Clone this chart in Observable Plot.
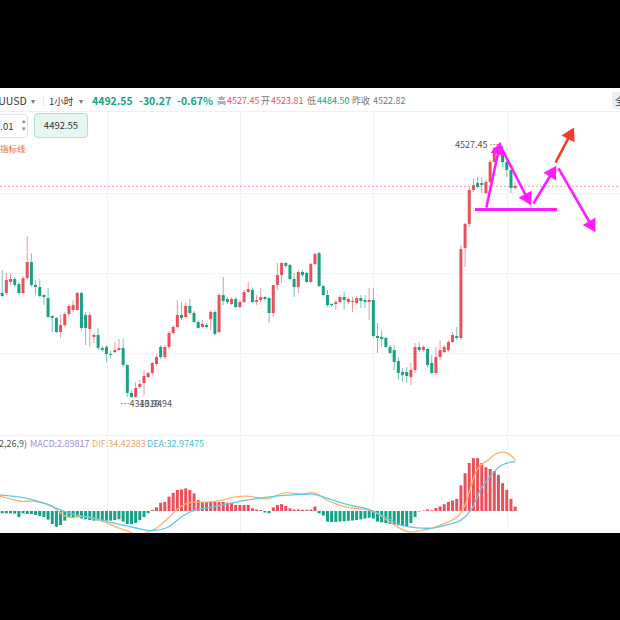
<!DOCTYPE html>
<html><head><meta charset="utf-8">
<script src="https://cdn.jsdelivr.net/npm/d3@7"></script>
<script src="https://cdn.jsdelivr.net/npm/@observablehq/plot@0.6"></script>
<style>
html,body{margin:0;padding:0;background:#000;width:620px;height:620px;overflow:hidden;font-family:"Noto Sans CJK SC","Noto Sans",sans-serif;}
#panel{position:absolute;left:0;top:88px;width:620px;height:445px;background:#fff;overflow:hidden;}
.t{position:absolute;white-space:nowrap;line-height:14px;}
#price{position:absolute;left:0;top:23px;}
#macd{position:absolute;left:0;top:347px;}
.sep{position:absolute;left:0;width:620px;height:1px;background:#eef0f2;}
</style></head>
<body>
<div id="panel">
  <div class="sep" style="top:23px"></div>
  <div id="price"></div>
  <div class="sep" style="top:347px"></div>
  <div id="macd"></div>
  <div id="hdr"></div>
</div>
<script>
// ---------------- data ----------------
const opens = [
4400.8,4400.8,4410.2,4412.8,4408.5,4400.8,4413.6,4427.3,4407.7,4405.9,
4399.1,4396.5,4381.1,4379.4,4367.4,4373.4,4382.8,4386.3,4386.3,4400.8,
4382.0,4370.0,4363.2,4364.9,4353.8,4354.6,4348.6,4350.3,4352.0,4353.8,
4339.2,4315.3,4311.8,4320.4,4323.8,4328.9,4332.4,4340.1,4354.6,4346.0,
4354.6,4366.6,4371.7,4382.0,4380.3,4389.7,4383.7,4376.0,4371.7,4373.4,
4378.6,4384.6,4367.4,4399.1,4395.7,4391.4,4395.7,4388.8,4393.1,4401.7,
4403.4,4393.1,4394.8,4397.4,4396.5,4383.7,4407.7,4416.2,4426.5,4424.8,
4412.8,4405.9,4418.8,4417.9,4410.2,4425.6,4435.0,4406.8,4399.1,4391.4,
4391.4,4393.1,4397.4,4393.1,4393.1,4392.3,4396.5,4394.8,4393.1,4394.8,
4364.0,4363.2,4362.3,4354.6,4352.0,4342.6,4333.2,4333.2,4328.9,4334.9,
4354.6,4352.0,4352.9,4340.9,4332.4,4346.0,4350.3,4352.0,4358.9,4364.0,
4362.3,4439.3,4459.9,4489.0,4494.9,4494.9,4486.4,4495.8,4512.9,4523.2,
4523.2,4512.9,4506.1,4490.7];
const closes = [
4398.2,4411.9,4412.8,4407.7,4400.8,4413.6,4427.3,4407.7,4405.9,4398.2,
4397.4,4380.3,4379.4,4367.4,4373.4,4382.8,4389.7,4390.5,4400.8,4370.9,
4370.9,4382.0,4364.9,4353.8,4352.0,4348.6,4347.8,4352.0,4353.8,4339.2,
4315.3,4311.8,4319.5,4323.0,4329.8,4332.4,4340.9,4346.0,4346.0,4354.6,
4366.6,4371.7,4382.0,4379.4,4389.7,4383.7,4376.0,4370.9,4374.3,4371.7,
4384.6,4365.7,4399.1,4394.0,4393.1,4395.7,4388.8,4393.1,4401.7,4404.2,
4393.1,4394.8,4397.4,4395.7,4383.7,4407.7,4416.2,4426.5,4423.9,4412.8,
4405.9,4418.8,4416.2,4410.2,4425.6,4434.2,4406.8,4399.1,4390.5,4390.5,
4393.1,4397.4,4394.8,4395.7,4394.0,4396.5,4394.0,4393.1,4394.8,4364.0,
4362.3,4361.5,4354.6,4349.5,4341.8,4332.4,4330.6,4329.8,4334.9,4354.6,
4352.0,4354.6,4339.2,4332.4,4346.0,4352.0,4354.6,4358.9,4364.9,4362.3,
4438.5,4459.9,4489.0,4493.2,4491.5,4493.2,4495.8,4512.9,4524.9,4525.7,
4512.9,4506.1,4490.7,4492.55];
const highs = [
4420.5,4417.9,4417.9,4414.5,4410.2,4415.4,4449.6,4435.0,4411.9,4412.8,
4399.6,4405.1,4382.0,4380.3,4382.0,4384.6,4391.4,4394.8,4401.7,4401.7,
4384.6,4384.6,4366.6,4370.9,4355.5,4356.3,4351.2,4358.9,4361.5,4362.3,
4339.6,4317.8,4324.7,4326.4,4334.9,4333.2,4341.8,4348.6,4356.3,4356.3,
4368.3,4373.4,4394.8,4393.1,4393.1,4395.7,4385.4,4377.7,4377.7,4375.1,
4386.3,4386.3,4400.8,4414.5,4397.4,4397.4,4397.4,4394.8,4403.4,4410.2,
4405.1,4399.1,4405.1,4398.2,4397.4,4407.7,4426.5,4427.3,4427.3,4425.6,
4417.9,4420.5,4420.5,4418.8,4426.5,4435.0,4435.9,4407.7,4403.4,4392.3,
4394.8,4399.1,4401.7,4397.4,4397.4,4398.2,4399.1,4399.1,4405.1,4405.1,
4375.1,4369.2,4363.2,4356.3,4356.3,4346.0,4336.6,4337.5,4340.9,4358.0,
4358.9,4356.3,4353.8,4347.8,4354.6,4360.6,4356.3,4360.6,4367.4,4371.7,
4441.9,4460.7,4491.5,4499.2,4500.1,4500.1,4497.5,4514.6,4525.7,4527.45,
4527.0,4516.3,4506.5,4495.8];
const lows = [
4397.4,4399.1,4407.7,4405.9,4399.1,4400.0,4411.9,4405.9,4399.1,4397.4,
4390.5,4379.4,4367.4,4366.6,4362.3,4371.7,4381.1,4384.6,4385.4,4369.2,
4356.3,4354.6,4358.0,4352.0,4350.3,4341.8,4345.2,4349.5,4351.2,4337.5,
4311.8,4310.94,4311.4,4318.7,4313.5,4328.1,4330.6,4338.4,4344.3,4344.3,
4352.9,4364.9,4370.9,4377.7,4379.4,4382.0,4375.1,4370.0,4370.9,4370.0,
4369.2,4364.9,4366.6,4390.5,4391.4,4390.5,4388.0,4388.0,4392.3,4400.8,
4392.3,4390.5,4393.1,4394.0,4375.1,4380.3,4403.4,4409.4,4422.2,4411.9,
4397.4,4400.8,4414.5,4409.4,4409.4,4424.8,4405.9,4398.2,4388.8,4388.8,
4386.3,4392.3,4386.3,4391.4,4384.6,4390.5,4388.0,4388.0,4377.7,4362.3,
4349.5,4354.6,4353.8,4348.6,4334.9,4326.4,4324.7,4323.8,4322.1,4332.4,
4350.3,4350.3,4337.5,4331.5,4330.6,4343.5,4349.5,4350.3,4358.0,4360.6,
4360.6,4423.1,4457.3,4487.2,4490.7,4486.4,4485.5,4494.9,4512.1,4520.6,
4508.6,4500.1,4486.4,4489.0];
const macdHist = [
-1.5,-1.5,-1.5,-1.8,-4,-1.5,-2,-2,-2.6,-3.3,
-4,-5.7,-8.6,-10.4,-9.3,-6.4,-4,-4,-3.7,-4.9,
-5.5,-6,-6.4,-6.4,-7,-6.4,-6.4,-6,-5.5,-7,
-8.6,-8.6,-8,-6,-4,-1.5,0.7,2.4,5.5,6,
9.5,12,13.9,14.3,15,14,11.7,7.3,6,6,
6,6,6,6,5.5,5.5,4,4,4,4,
1.8,1,0.7,-1,-1.5,2.4,4,4.6,3.3,1.8,
1,1,0.8,0.8,1,3,-1.5,-3,-7,-7.3,
-7.3,-7,-6.8,-6.5,-6.3,-6,-5.5,-5,-4.5,-5,
-7,-7.5,-8,-8.5,-9,-9.5,-10,-10.6,-8,-4,
-0.3,0.3,1,0.5,2,3,4.5,6,7,8,
17,25,31.8,35,35,31.8,29,27.8,26.5,24,
18.5,14,8,2.9];
const difPoints = [[-0.4,10],[4.4,6.8],[7.6,6.8],[11.6,4],[14.8,-2.6],[16.4,-4],[19.6,-3.3],[23.6,-6],[27.6,-10.6],[30,-13],[32.5,-15.5],[35.2,-13.4],[37.2,-10.6],[39.6,-5],[42,1.5],[44.4,5.5],[46,6.2],[49.2,6.2],[52.4,7.3],[55.6,9.5],[58.8,10.2],[63.6,8.4],[67.6,12.4],[71.6,11.5],[74.8,12.4],[78,7.3],[82,3.3],[87.6,1],[90,-1.5],[93,-7],[95.6,-11.5],[98,-13.7],[100.4,-12.6],[103.6,-10.6],[106.8,-7],[109,-4],[110.8,3],[112.4,16.3],[114,28.4],[116.4,34],[118.8,38.6],[120.4,39.3],[122,37],[123,34.42]];
const deaPoints = [[-0.4,10.8],[4.4,9.5],[9.2,6.2],[14,1.1],[17.2,-2],[22,-4.2],[26.8,-7.7],[31.6,-10.6],[35.2,-12.6],[39.6,-10.6],[42.8,-4],[46,0.7],[49.2,2.4],[54,5],[58.8,7.7],[63.6,9.5],[68.4,10.8],[74,11.5],[75.6,10.8],[79.6,7.3],[83.6,4],[87.6,1.8],[91.6,-3.3],[95.6,-8.8],[99.6,-10.8],[103.6,-10.8],[107.6,-8.1],[110,-5.7],[112.4,0.7],[114.8,15],[117.2,23.8],[119.6,30.5],[122,32.7],[123,32.97]];
const gridPrices = [4486.4, 4417.9, 4349.5];
const gridIndex = [25.25, 57.15, 89.05, 121.2];
const lastPrice = 4492.55;
const highLabel = {i:119, p:4527.45, text:"4527.45"};
const lowLabel = {i:31, p:4310.94, text:"4310.94"};
// hand-drawn annotations (candle index, price)
const annBase = [{x1:113.5, x2:133.2, p:4472.7}];
const annArrows = [
  {x1:116.1,y1:4474.4,x2:119.2,y2:4526.0,c:"#ff1cff"},
  {x1:119.6,y1:4526.0,x2:126.2,y2:4480.4,c:"#ff1cff"},
  {x1:127.4,y1:4477.8,x2:132.2,y2:4506.1,c:"#ff1cff"},
  {x1:132.7,y1:4512.9,x2:136.5,y2:4538.6,c:"#f53a2a"},
  {x1:133.4,y1:4507.8,x2:141.6,y2:4457.3,c:"#ff1cff"}
];
const header = {sym:"XAUUSD", period:"1小时", last:"4492.55", chg:"-30.27", pct:"-0.67%",
  high:"4527.45", open:"4523.81", low:"4484.50", prev:"4522.82"};
const macdLabels = {params:"(12,26,9)", macd:"MACD:2.89817", dif:"DIF:34.42383", dea:"DEA:32.97475"};

// ---------------- drawing ----------------
const RED = "#e9505c", GREEN = "#16a283";
const candles = opens.map((o,i)=>({i, o, c:closes[i], h:highs[i], l:lows[i], col: closes[i]>=o ? RED : GREEN}));
const hist = macdHist.map((v,i)=>({i, v, col: v>=0 ? RED : GREEN}));
const xDomain = [-0.41, 148.27], yDomain = [4279.30, 4556.55];
const W = 620, H = 324;
const font = {fontFamily:"'Noto Sans CJK SC', sans-serif", background:"transparent"};
// screen-space direction of each arrow (for filled heads)
const pxX = W/(xDomain[1]-xDomain[0]), pxY = H/(yDomain[1]-yDomain[0]);
const heads = annArrows.map(a=>{
  const dx = (a.x2-a.x1)*pxX, dy = -(a.y2-a.y1)*pxY;
  const len = Math.hypot(dx,dy);
  const back = 3; // pull head centre back along the shaft
  return {x:a.x2 - (dx/len)*back/pxX, y:a.y2 + (dy/len)*back/pxY, c:a.c,
          rot: Math.atan2(dx,-dy)*180/Math.PI};
});

const price = Plot.plot({
  width:W, height:H, margin:0, style:font,
  x:{domain:xDomain, axis:null}, y:{domain:yDomain, axis:null},
  color:{type:"identity"},
  marks:[
    Plot.ruleY(gridPrices,{stroke:"#f1f2f4"}),
    Plot.ruleX(gridIndex,{stroke:"#f1f2f4"}),
    Plot.ruleY([lastPrice],{stroke:"#ef7f8a",strokeDasharray:"2,2",strokeOpacity:0.8}),
    Plot.ruleX(candles,{x:"i",y1:"l",y2:"h",stroke:"col",strokeWidth:1,strokeOpacity:0.6}),
    Plot.ruleX(candles,{x:"i",y1:"o",y2:"c",stroke:"col",strokeWidth:3}),
    Plot.text([highLabel],{x:"i",y:"p",text:d=>d.text+" ⋯",textAnchor:"end",dx:0,fontSize:9,fill:"#555"}),
    Plot.text([lowLabel],{x:"i",y:"p",text:d=>"…"+d.text,textAnchor:"start",dx:-11,dy:6,fontSize:9,fill:"#555"}),
    Plot.text([lowLabel],{x:"i",y:"p",text:"text",textAnchor:"start",dx:8,dy:6,fontSize:9,fill:"#555"}),
    Plot.ruleY(annBase,{y:"p",x1:"x1",x2:"x2",stroke:"#ff1cff",strokeWidth:3}),
    Plot.link(annArrows,{x1:"x1",y1:"y1",x2:"x2",y2:"y2",stroke:"c",strokeWidth:2.6}),
    Plot.dot(heads,{x:"x",y:"y",symbol:"triangle",r:5.5,fill:"c",stroke:"none",rotate:"rot"})
  ]
});
document.getElementById("price").appendChild(price);

const macd = Plot.plot({
  width:W, height:125, margin:0, style:font,
  x:{domain:xDomain, axis:null}, y:{domain:[-32.45,50.33], axis:null},
  color:{type:"identity"},
  marks:[
    Plot.ruleX(gridIndex,{stroke:"#f1f2f4"}),
    Plot.ruleX(hist,{x:"i",y1:0,y2:"v",stroke:"col",strokeWidth:3}),
    Plot.line(difPoints,{x:d=>d[0],y:d=>d[1],stroke:"#ffb06a",strokeWidth:1.3,curve:"catmull-rom"}),
    Plot.line(deaPoints,{x:d=>d[0],y:d=>d[1],stroke:"#5ccbe8",strokeWidth:1.3,curve:"catmull-rom"})
  ]
});
document.getElementById("macd").appendChild(macd);

// header / labels (HTML text)
const hdr = document.getElementById("hdr");
function add(txt, left, top, size, color, extra){
  const s = document.createElement("span");
  s.className = "t"; s.textContent = txt;
  s.style.left = left+"px"; s.style.top = top+"px";
  s.style.fontSize = size+"px"; s.style.color = color;
  if (extra) Object.assign(s.style, extra);
  hdr.appendChild(s); return s;
}
add(header.sym, -14, 6, 10.5, "#333");
add("▾", 31, 6, 8, "#777");
add("|", 42, 5, 10, "#ddd");
add(header.period, 49, 6, 9.5, "#333");
add("▾", 79, 6, 8, "#777");
add(header.last, 92, 6, 10.5, GREEN, {fontWeight:"bold"});
add(header.chg, 139, 6, 10.5, GREEN, {fontWeight:"bold"});
add(header.pct, 177, 6, 10.5, GREEN, {fontWeight:"bold"});
add("高", 217, 6, 9, "#777");
add(header.high, 227, 6, 9, RED);
add("开", 261, 6, 9, "#777");
add(header.open, 271, 6, 9, RED);
add("低", 307, 6, 9, "#777");
add(header.low, 317, 6, 9, GREEN);
add("昨收", 352, 6, 9, "#777");
add(header.prev, 373, 6, 9, "#777");
// right corner button
add("全", 612, 4, 10, "#444", {background:"#eceef1", borderRadius:"3px", padding:"1px 8px 1px 3px", lineHeight:"15px"});
// input box & price button
add("0.01", -14, 26, 9.5, "#333", {border:"1px solid #dfe2e6", borderRadius:"3px", width:"32px", height:"22px", lineHeight:"22px", paddingLeft:"8px"});
add("▴", 22, 25, 7, "#888");
add("▾", 22, 33, 7, "#888");
add(header.last, 34, 25, 9.5, "#333", {background:"#e6f6f1", border:"1px solid #a9e0cf", borderRadius:"4px", width:"52px", height:"23px", lineHeight:"23px", textAlign:"center"});
add("指标线", 0, 53, 8.5, "#f2683c");
// MACD labels
add(macdLabels.params, -9, 349, 9, "#555");
add(macdLabels.macd, 30, 349, 9, "#a48be9");
add(macdLabels.dif, 92, 349, 9, "#f5a561");
add(macdLabels.dea, 147, 349, 9, "#49c0dc");
</script>
</body></html>
